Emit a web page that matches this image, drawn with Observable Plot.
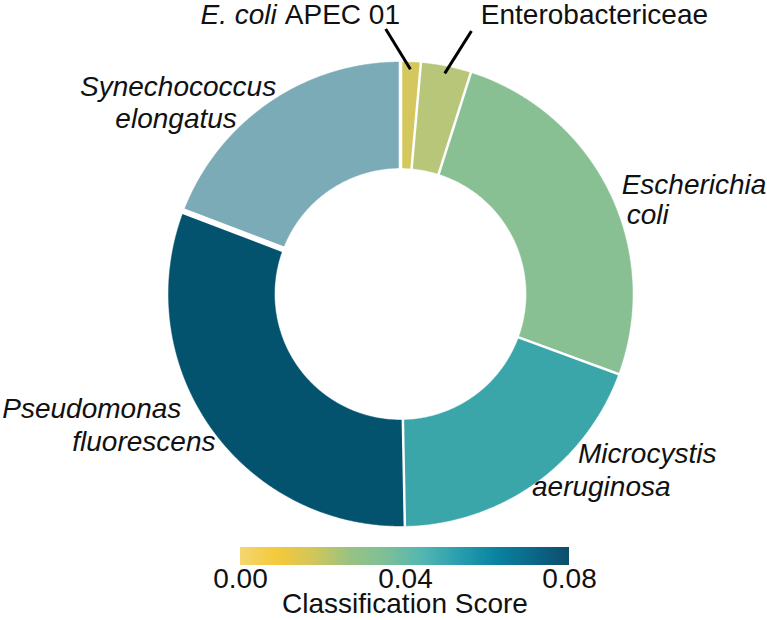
<!DOCTYPE html>
<html>
<head>
<meta charset="utf-8">
<script src="https://cdn.jsdelivr.net/npm/d3@7"></script>
<script src="https://cdn.jsdelivr.net/npm/@observablehq/plot@0.6"></script>
<style>
  html, body { margin: 0; padding: 0; background: #fff; }
  svg { display: block; }
  #legend svg text { font-family: "Liberation Sans", Arial, sans-serif !important; font-size: 28px !important; fill: #111 !important; }
  #legend svg .tick line { display: none; }
  #legend-title { font-family: "Liberation Sans", Arial, sans-serif; font-size: 28px; line-height: 28px; height: 28px; color: #111;
    margin-left: 240px; width: 330px; text-align: center; white-space: nowrap; }
</style>
</head>
<body>
<div id="chart"></div>
<div id="legend"></div>
<div id="legend-title"></div>
<script>
// ---- data ----
const categories = ["E. coli APEC 01", "Enterobactericeae", "Escherichia coli", "Microcystis aeruginosa", "Pseudomonas fluorescens", "Synechococcus elongatus"];
const shares = [1.4, 3.5, 25.7, 19.1, 31.1, 19.2];
const sliceColors = ["#d4c75e", "#b7c679", "#88c093", "#3aa6aa", "#03536f", "#7cabb8"];
const legendTicks = [0, 0.04, 0.08];
const legendDomain = [0, 0.08];
const legendStops = ["#f3d66f", "#f5c93c", "#d2c65a", "#99c283", "#7dbf99", "#52b7b1", "#2a9eae", "#0a84a2", "#0b6889", "#0c4e6c"];
const legendTitle = "Classification Score";

// label text lines (text, slice, italic)
const labelLines = [
  {slice: "Synechococcus elongatus", text: "Synechococcus", italic: true},
  {slice: "Synechococcus elongatus", text: "elongatus", italic: true},
  {slice: "Escherichia coli", text: "Escherichia", italic: true},
  {slice: "Escherichia coli", text: "coli", italic: true},
  {slice: "Microcystis aeruginosa", text: "Microcystis", italic: true},
  {slice: "Microcystis aeruginosa", text: "aeruginosa", italic: true},
  {slice: "Pseudomonas fluorescens", text: "Pseudomonas", italic: true},
  {slice: "Pseudomonas fluorescens", text: "fluorescens", italic: true},
  {slice: "E. coli APEC 01", text: "E. coli", italic: true},
  {slice: "E. coli APEC 01", text: "APEC 01", italic: false},
  {slice: "Enterobactericeae", text: "Enterobactericeae", italic: false}
];

// ---- layout (pixel offsets relative to each slice's outer midpoint) ----
const PX = 232;           // pixels per unit radius
const CX = 400, CY = 293.5, W = 767, H = 540;
const INNER = 0.543;
const lineLayout = [
  {anchor: "middle", dx: -90.8, dy: -15.9},
  {anchor: "middle", dx: -92.8, dy: 16.1},
  {anchor: "start", dx: 12.8, dy: -6.6},
  {anchor: "start", dx: 17.8, dy: 23.4},
  {anchor: "start", dx: 42.9, dy: -28.7},
  {anchor: "start", dx: -3.1, dy: 3.8},
  {anchor: "start", dx: -208.4, dy: -18.7},
  {anchor: "start", dx: -138.4, dy: 14.3},
  {anchor: "end", dx: -133.9, dy: -47.2},
  {anchor: "start", dx: -125.9, dy: -47.2},
  {anchor: "start", dx: 34.7, dy: -51.5}
];
const leaderLayout = {"E. coli APEC 01": {angle: -3.2, r: 1.144}, "Enterobactericeae": {angle: 15.1, r: 1.174}};
const gapWidth = {"E. coli APEC 01": 3.5, "Synechococcus elongatus": 6};

// ---- geometry derived from data ----
const total = d3.sum(shares);
let acc = 0;
const slices = categories.map((name, i) => {
  const a0 = acc / total * 2 * Math.PI; acc += shares[i];
  const a1 = acc / total * 2 * Math.PI;
  return {name, a0, a1, mid: (a0 + a1) / 2};
});
const polar = (a, r) => ({x: Math.sin(a) * r, y: Math.cos(a) * r});
const ringPts = [];
for (const s of slices) {
  const n = Math.max(2, Math.ceil((s.a1 - s.a0) / (Math.PI / 360)));
  for (let k = 0; k <= n; k++) { const a = s.a0 + (s.a1 - s.a0) * k / n; ringPts.push({name: s.name, ...polar(a, 1)}); }
  for (let k = n; k >= 0; k--) { const a = s.a0 + (s.a1 - s.a0) * k / n; ringPts.push({name: s.name, ...polar(a, INNER)}); }
}
const gaps = slices.map(s => {
  const p1 = polar(s.a0, INNER - 0.05), p2 = polar(s.a0, 1.05);
  return {x1: p1.x, y1: p1.y, x2: p2.x, y2: p2.y, w: gapWidth[s.name] ?? 2.5};
});
const sliceBy = Object.fromEntries(slices.map(s => [s.name, s]));
const leaders = Object.entries(leaderLayout).map(([name, L]) => {
  const s = sliceBy[name];
  const p1 = polar(s.mid, 0.97), p2 = polar(L.angle * Math.PI / 180, L.r);
  return {x1: p1.x, y1: p1.y, x2: p2.x, y2: p2.y};
});
const labels = labelLines.map((d, i) => {
  const s = sliceBy[d.slice], m = polar(s.mid, 1), L = lineLayout[i];
  return {...d, anchor: L.anchor, x: m.x + L.dx / PX, y: m.y - L.dy / PX};
});

const font = "Liberation Sans, Arial, sans-serif";
const textMarks = [];
for (const anchor of ["start", "middle", "end"]) {
  for (const italic of [true, false]) {
    const sub = labels.filter(d => d.anchor === anchor && d.italic === italic);
    if (sub.length) textMarks.push(Plot.text(sub, {x: "x", y: "y", text: "text", textAnchor: anchor,
      fontStyle: italic ? "italic" : "normal", fontSize: 28, fontFamily: font, fill: "#111"}));
  }
}

const chart = Plot.plot({
  width: W, height: H,
  marginLeft: 0, marginRight: 0, marginTop: 0, marginBottom: 0,
  x: {domain: [-CX / PX, (W - CX) / PX], axis: null},
  y: {domain: [-(H - CY) / PX, CY / PX], axis: null},
  color: {type: "ordinal", domain: categories, range: sliceColors},
  style: {fontFamily: font, background: "white"},
  marks: [
    Plot.line(ringPts, {x: "x", y: "y", z: "name", fill: "name", stroke: "name", strokeWidth: 0.5, curve: "linear-closed"}),
    Plot.link(gaps, {x1: "x1", y1: "y1", x2: "x2", y2: "y2", stroke: "white", strokeWidth: "w"}),
    Plot.link(leaders, {x1: "x1", y1: "y1", x2: "x2", y2: "y2", stroke: "black", strokeWidth: 3}),
    ...textMarks
  ]
});
document.getElementById("chart").append(chart);

const legend = Plot.legend({
  color: {type: "linear", domain: legendDomain, interpolate: d3.piecewise(d3.interpolateRgb, legendStops)},
  legend: "ramp",
  width: W, height: 50,
  marginLeft: 240, marginRight: 198, marginTop: 7, marginBottom: 25,
  ticks: legendTicks, tickFormat: ".2f", tickSize: 0, label: null
});
document.getElementById("legend").append(legend);
document.getElementById("legend-title").textContent = legendTitle;
</script>
</body>
</html>
